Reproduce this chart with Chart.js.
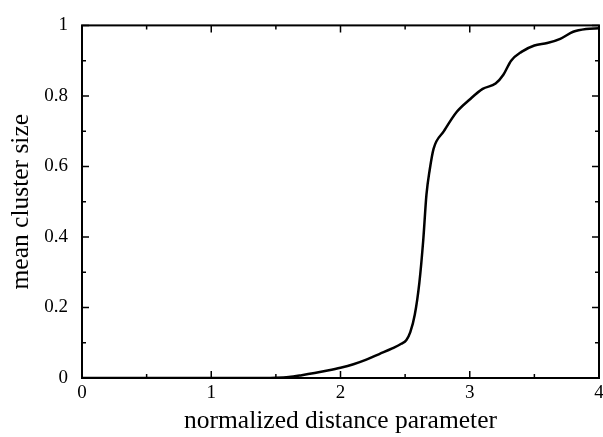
<!DOCTYPE html>
<html>
<head>
<meta charset="utf-8">
<script src="https://cdn.jsdelivr.net/npm/chart.js@4/dist/chart.umd.min.js"></script>
<style>
  html, body { margin: 0; padding: 0; background: #fff; }
  #wrap { width: 603px; height: 437px; }
</style>
</head>
<body>
<div id="wrap"><canvas id="c" width="603" height="437"></canvas></div>
<script>
// values
const distance = [0, 1.3, 1.5, 1.6, 1.7, 1.8, 1.9, 2.0, 2.1, 2.2, 2.3, 2.4, 2.47, 2.51, 2.54, 2.575, 2.61, 2.64, 2.665, 2.69, 2.72, 2.8, 2.9, 3.0, 3.1, 3.2, 3.26, 3.32, 3.4, 3.5, 3.6, 3.7, 3.8, 3.9, 4.0];
const clusterSize = [0, 0, 0.001, 0.003, 0.008, 0.014, 0.021, 0.029, 0.039, 0.052, 0.068, 0.084, 0.097, 0.108, 0.13, 0.18, 0.27, 0.39, 0.52, 0.59, 0.65, 0.7, 0.755, 0.79, 0.82, 0.835, 0.86, 0.9, 0.925, 0.943, 0.95, 0.962, 0.982, 0.99, 0.992];
const xTicks = [0, 1, 2, 3, 4];
const yTicks = [0, 0.2, 0.4, 0.6, 0.8, 1];

const serif = "'Liberation Serif', 'Times New Roman', serif";

// frame on all four sides plus inward major/minor ticks
const framePlugin = {
  id: 'frame',
  afterDraw(chart) {
    const { ctx, chartArea: a, scales: { x, y } } = chart;
    ctx.save();
    ctx.strokeStyle = '#000';
    ctx.lineWidth = 2;
    ctx.strokeRect(a.left, a.top, a.right - a.left, a.bottom - a.top);
    ctx.lineWidth = 1.5;
    ctx.beginPath();
    for (let v = 0; v <= 4.001; v += 0.5) {
      const px = x.getPixelForValue(v);
      const len = Math.abs(v - Math.round(v)) < 1e-6 ? 7 : 4;
      ctx.moveTo(px, a.bottom); ctx.lineTo(px, a.bottom - len);
      ctx.moveTo(px, a.top); ctx.lineTo(px, a.top + len);
    }
    for (let v = 0; v <= 1.001; v += 0.1) {
      const py = y.getPixelForValue(v);
      const major = Math.abs(v * 5 - Math.round(v * 5)) < 1e-6;
      const len = major ? 7 : 4;
      ctx.moveTo(a.left, py); ctx.lineTo(a.left + len, py);
      ctx.moveTo(a.right, py); ctx.lineTo(a.right - len, py);
    }
    ctx.stroke();
    ctx.restore();
  }
};

new Chart(document.getElementById('c'), {
  type: 'line',
  data: {
    datasets: [{
      data: distance.map((d, i) => ({ x: d, y: clusterSize[i] })),
      borderColor: '#000',
      borderWidth: 2.5,
      pointRadius: 0,
      cubicInterpolationMode: 'monotone',
      fill: false
    }]
  },
  options: {
    responsive: false,
    animation: false,
    layout: { padding: { top: 16, right: 4, left: 0, bottom: 0 } },
    plugins: { legend: { display: false }, tooltip: { enabled: false } },
    scales: {
      x: {
        type: 'linear',
        min: 0, max: 4,
        afterBuildTicks: s => { s.ticks = xTicks.map(v => ({ value: v })); },
        afterFit: s => { s.height = 59; s.paddingRight = 0; },
        grid: { display: false, drawTicks: false },
        border: { display: false },
        ticks: { color: '#000', padding: 4, font: { family: serif, size: 19 } },
        title: { display: true, text: 'normalized distance parameter', color: '#000', padding: { top: 0, bottom: 0 }, font: { family: serif, size: 25.5 } }
      },
      y: {
        type: 'linear',
        min: 0, max: 1,
        afterBuildTicks: s => { s.ticks = yTicks.map(v => ({ value: v })); },
        afterFit: s => { s.width = 82; },
        grid: { display: false, drawTicks: false },
        border: { display: false },
        ticks: {
          color: '#000', padding: 14, font: { family: serif, size: 19 },
          callback: v => String(Math.round(v * 10) / 10)
        },
        title: { display: true, text: 'mean cluster size', color: '#000', padding: { top: 6, bottom: 0 }, font: { family: serif, size: 25.5 } }
      }
    }
  },
  plugins: [framePlugin]
});
</script>
</body>
</html>
